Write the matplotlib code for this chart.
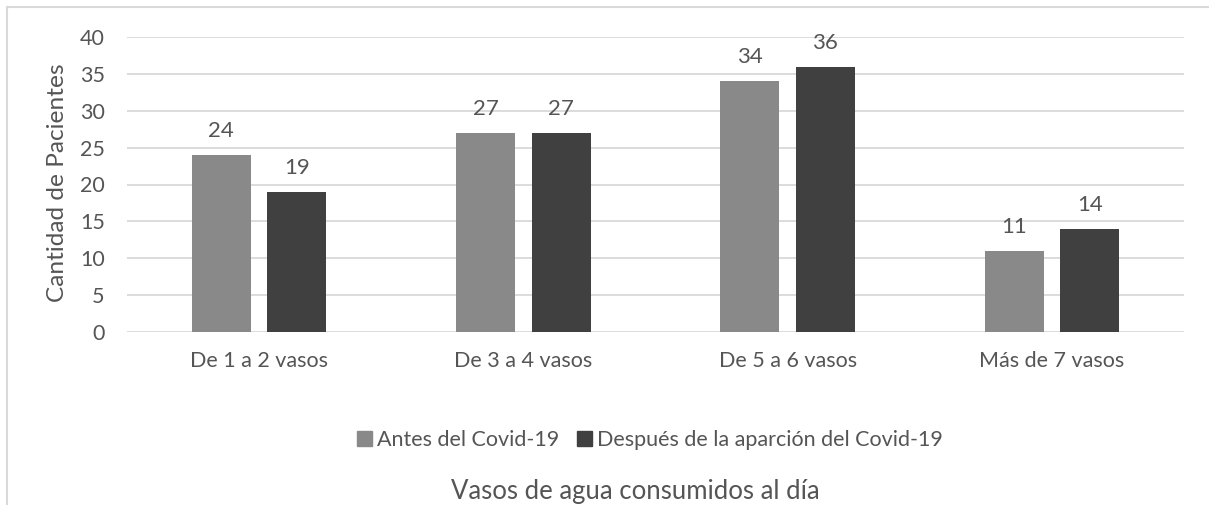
import matplotlib
matplotlib.use("Agg")
import matplotlib.pyplot as plt
from matplotlib.patches import Rectangle, Patch
import numpy as np

categories = ["De 1 a 2 vasos", "De 3 a 4 vasos", "De 5 a 6 vasos", "Más de 7 vasos"]
antes = [24, 27, 34, 11]
despues = [19, 27, 36, 14]
series_names = ["Antes del Covid-19", "Después de la aparción del Covid-19"]
yticks = [0, 5, 10, 15, 20, 25, 30, 35, 40]

txt = "#555555"
c_antes = "#898989"
c_desp = "#404040"
grid_c = "#d9d9d9"

plt.rcParams["font.family"] = ["Lato", "DejaVu Sans"]

W, H = 1209, 505
fig = plt.figure(figsize=(W / 100, H / 100), dpi=100)

# chart frame (extends past the right/bottom edge)
fig.patches.append(Rectangle((7 / W, -0.1), 1.2, 1 - 7 / H + 0.1, transform=fig.transFigure,
                             fill=False, ec=grid_c, lw=1.5))

ax = fig.add_axes([127 / W, 1 - 332 / H, (1184 - 127) / W, (332 - 37) / H])
x = np.arange(len(categories))
bw = 0.223
off = 0.143
b1 = ax.bar(x - off, antes, bw, color=c_antes, zorder=3)
b2 = ax.bar(x + off, despues, bw, color=c_desp, zorder=3)

for bars in (b1, b2):
    for r in bars:
        ax.annotate(f"{int(r.get_height())}", (r.get_x() + r.get_width() / 2, r.get_height()),
                    xytext=(0, 10), textcoords="offset points", ha="center", va="bottom",
                    fontsize=16, color=txt)

ax.set_xlim(-0.5, len(categories) - 0.5)
ax.set_ylim(0, 40)
ax.set_yticks(yticks)
ax.set_xticks(x)
ax.set_xticklabels(categories)
ax.yaxis.grid(True, color=grid_c, lw=1.3, zorder=0)
for s in ax.spines.values():
    s.set_visible(False)
ax.tick_params(axis="both", length=0, labelsize=15.5, labelcolor=txt)
ax.tick_params(axis="x", pad=14)
ax.tick_params(axis="y", pad=16)
ax.set_ylabel("Cantidad de Pacientes", fontsize=17.6, color=txt)
ax.yaxis.set_label_coords(-0.056, 0.505)

handles = [Patch(color=c_antes), Patch(color=c_desp)]
fig.legend(handles, series_names, loc="center", bbox_to_anchor=(650 / W, 1 - 440 / H),
           ncol=2, frameon=False, fontsize=15.5, labelcolor=txt, handlelength=0.7,
           handleheight=0.7, handletextpad=0.25, columnspacing=0.8)

fig.text(635 / W, 1 - 492 / H, "Vasos de agua consumidos al día", ha="center", va="center",
         fontsize=18.5, color=txt)

fig.savefig("out.png", dpi=100)
